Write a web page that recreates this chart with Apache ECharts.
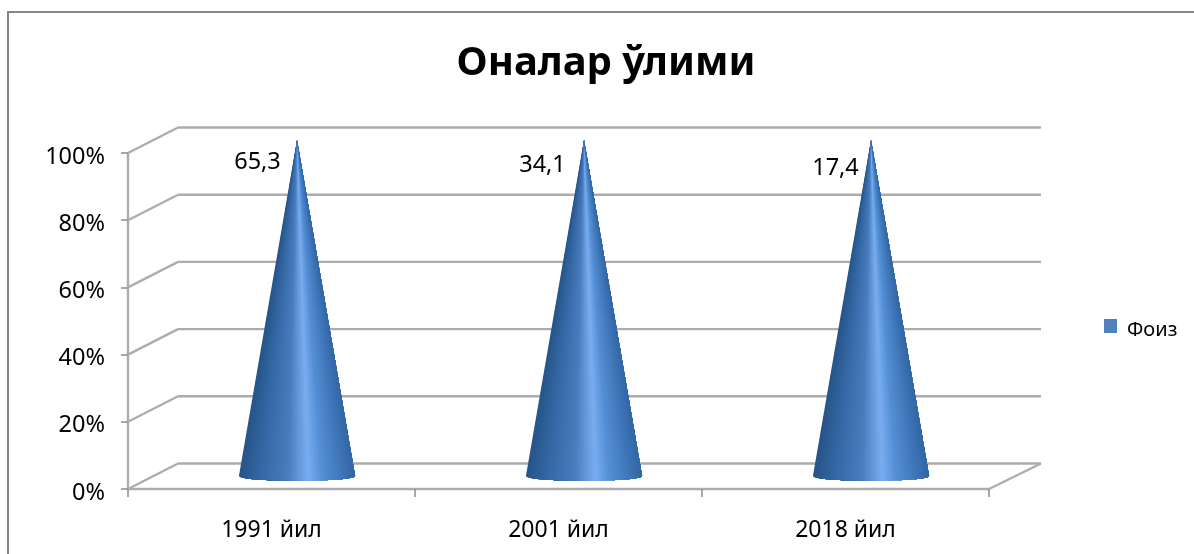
<!DOCTYPE html>
<html>
<head>
<meta charset="utf-8">
<style>html,body{margin:0;padding:0;background:#fff}#c{width:1194px;height:554px}</style>
<script src="https://cdn.jsdelivr.net/npm/echarts@6/dist/echarts.min.js"></script>
</head>
<body>
<div id="c"></div>
<script>
const titleText = 'Оналар ўлими';
const seriesName = 'Фоиз';
const categories = ['1991 йил', '2001 йил', '2018 йил'];
const stackedShare = [100, 100, 100];
const labelValues = ['65,3', '34,1', '17,4'];
const gridTicks = [0, 20, 40, 60, 80, 100];

const FONT = '"Noto Sans", sans-serif';
const DEPTH = [50, -25.5];
const BACK_EXTRA = 2;
const LABEL_SHIFT = [[-39.5, 22], [-41.5, 25], [-35.5, 28]];
const GRID_COLOR = '#adadad';
const SHADE = [[0, [38, 84, 136]], [0.18, [52, 103, 164]], [0.42, [72, 124, 190]], [0.6, [120, 174, 240]], [0.72, [84, 142, 212]], [1, [50, 102, 165]]];

function shade(t) {
  for (let i = 1; i < SHADE.length; i++) {
    if (t <= SHADE[i][0]) {
      const a = SHADE[i - 1], b = SHADE[i], k = (t - a[0]) / (b[0] - a[0]);
      const c = a[1].map((v, j) => Math.round(v + (b[1][j] - v) * k));
      return 'rgb(' + c.join(',') + ')';
    }
  }
  return 'rgb(' + SHADE[SHADE.length - 1][1].join(',') + ')';
}

function renderWalls(params, api) {
  const v = api.value(0);
  const f = api.coord([0, v]);
  const left = params.coordSys.x;
  const right = left + params.coordSys.width;
  const style = { stroke: GRID_COLOR, lineWidth: 2.4, fill: 'none' };
  const children = [
    { type: 'line', shape: { x1: left, y1: f[1], x2: left + DEPTH[0], y2: f[1] + DEPTH[1] }, style },
    { type: 'line', shape: { x1: left + DEPTH[0], y1: f[1] + DEPTH[1], x2: right + DEPTH[0] + BACK_EXTRA, y2: f[1] + DEPTH[1] }, style }
  ];
  if (v === 0) {
    children.push({ type: 'line', shape: { x1: right, y1: f[1], x2: right + DEPTH[0] + BACK_EXTRA, y2: f[1] + DEPTH[1] }, style });
  }
  return { type: 'group', children };
}

function renderCone(params, api) {
  const i = api.value(0);
  const base = api.coord([i, 0]);
  const top = api.coord([i, api.value(1)]);
  const cx = base[0] + DEPTH[0] / 2 + 0.5;
  const by = base[1] + DEPTH[1] / 2;
  const tip = [top[0] + DEPTH[0] / 2 + 0.5, top[1] + DEPTH[1] / 2];
  const a = api.size([1, 0])[0] * 0.2025;
  const b = 4.5;
  const n = 60;
  const edge = x => [cx + a * x, by + b * Math.sqrt(Math.max(0, 1 - x * x))];
  const children = [];
  for (let k = 0; k < n; k++) {
    const points = [tip];
    for (let m = k; m <= n; m++) points.push(edge(-1 + 2 * m / n));
    children.push({
      type: 'polygon',
      shape: { points },
      style: { fill: shade((k + 0.5) / n) }
    });
  }
  const shift = LABEL_SHIFT[i];
  children.push({
    type: 'text',
    x: tip[0] + shift[0],
    y: tip[1] + shift[1],
    style: { text: labelValues[i], fill: '#000', font: '23.5px ' + FONT, align: 'center', verticalAlign: 'middle' }
  });
  return { type: 'group', children };
}

const chart = echarts.init(document.getElementById('c'), null, { renderer: 'canvas' });
chart.setOption({
  animation: false,
  backgroundColor: '#fff',
  title: {
    text: titleText, left: 601, top: 39, textAlign: 'center',
    textStyle: { fontFamily: FONT, fontSize: 40, fontWeight: 'bold', color: '#000' }
  },
  graphic: [{
    type: 'rect', silent: true, z: -10,
    shape: { x: 8, y: 12, width: 1300, height: 700 },
    style: { fill: 'none', stroke: '#868686', lineWidth: 2 }
  }],
  legend: {
    data: [{ name: seriesName, icon: 'path://M0 0H13V14H0Z M0 22H0.01V22.01H0Z', itemStyle: { color: '#4f81bd' } }],
    left: 1099, top: 314, itemWidth: 13, itemHeight: 22, itemGap: 6,
    textStyle: { fontFamily: FONT, fontSize: 20, color: '#000', padding: [0, 0, 0, 5] }
  },
  grid: { left: 128, right: 205, top: 153, bottom: 65 },
  xAxis: {
    type: 'category', data: categories,
    axisLine: { lineStyle: { color: GRID_COLOR, width: 2.4 } },
    axisTick: { show: true, length: 8, lineStyle: { color: '#8c8c8c', width: 1.5 } },
    axisLabel: { fontFamily: FONT, fontSize: 23, color: '#000', margin: 30 },
    splitLine: { show: false }
  },
  yAxis: {
    type: 'value', min: 0, max: 100, interval: 20,
    axisLine: { show: true, lineStyle: { color: GRID_COLOR, width: 2.4 } },
    axisTick: { show: true, length: 7, lineStyle: { color: '#8c8c8c', width: 1.5 } },
    axisLabel: { fontFamily: FONT, fontSize: 23.5, color: '#000', margin: 23, verticalAlign: 'top', lineHeight: 8, formatter: '{value}%' },
    splitLine: { show: false }
  },
  series: [
    { type: 'custom', name: 'walls', silent: true, z: 1, coordinateSystem: 'cartesian2d', renderItem: renderWalls,
      encode: { x: 1, y: 0 }, data: gridTicks.map(t => [t, 0]), clip: false },
    { type: 'custom', name: seriesName, z: 3, coordinateSystem: 'cartesian2d', renderItem: renderCone,
      itemStyle: { color: '#4f81bd' }, encode: { x: 0, y: 1 },
      data: stackedShare.map((s, i) => [i, s]), clip: false }
  ]
});
</script>
</body>
</html>
